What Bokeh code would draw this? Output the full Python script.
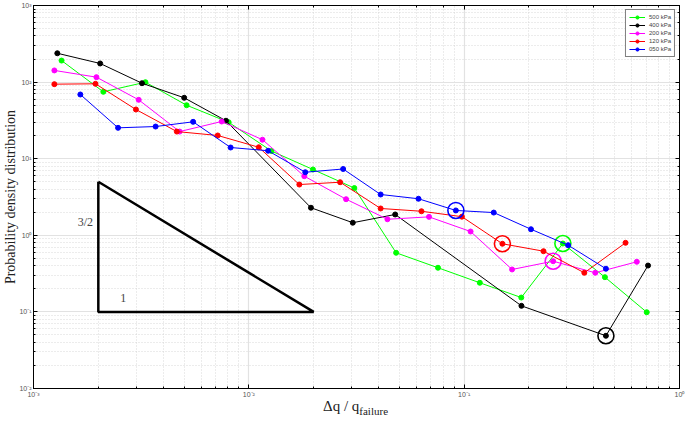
from bokeh.plotting import figure
from bokeh.models import (LogAxis, Legend, LegendItem, Label, LogTicker, CustomJSTickFormatter, Div)
from bokeh.layouts import column
from bokeh.embed import file_html
from bokeh.resources import INLINE

# ---- data ----
x_500 = [0.00135, 0.00211, 0.00331, 0.00514, 0.00806, 0.01273, 0.01985, 0.0309, 0.0483, 0.0756, 0.1182, 0.1842, 0.2873, 0.4505, 0.7045]
y_500 = [191, 74.7, 99.7, 49.9, 29.9, 12.6, 7.23, 4.14, 0.591, 0.377, 0.240, 0.154, 0.781, 0.284, 0.099]

x_400 = [0.00129, 0.00204, 0.00319, 0.00501, 0.00783, 0.01943, 0.03039, 0.04783, 0.1845, 0.4553, 0.7143]
y_400 = [238, 175, 96.7, 62.4, 31.3, 2.29, 1.46, 1.87, 0.120, 0.0488, 0.403]

x_200 = [0.00125, 0.00196, 0.00308, 0.00477, 0.00748, 0.01157, 0.0181, 0.02829, 0.04402, 0.06867, 0.1071, 0.1669, 0.2590, 0.4063, 0.6335]
y_200 = [142, 116, 58.7, 22.6, 30.6, 17.7, 5.91, 2.96, 1.62, 1.74, 1.12, 0.358, 0.459, 0.324, 0.451]

x_120 = [0.00125, 0.00194, 0.00299, 0.00463, 0.00717, 0.01112, 0.01716, 0.02654, 0.04093, 0.06334, 0.0976, 0.1505, 0.2336, 0.3614, 0.5616]
y_120 = [94, 95, 43.9, 22.6, 20.1, 14.1, 4.60, 4.93, 2.24, 2.06, 1.75, 0.775, 0.620, 0.324, 0.798]

x_050 = [0.00165, 0.00247, 0.00369, 0.00551, 0.00823, 0.01229, 0.01829, 0.02741, 0.04093, 0.06135, 0.0915, 0.1372, 0.2043, 0.3039, 0.4553]
y_050 = [68.9, 25.3, 26.3, 30.3, 14.0, 12.7, 6.66, 7.34, 3.41, 3.00, 2.11, 1.98, 1.20, 0.743, 0.366]

series_labels = ["500 kPa", "400 kPa", "200 kPa", "120 kPa", "050 kPa"]
series_colors = ["#00ff00", "#000000", "#ff00ff", "#ff0000", "#0000ff"]
# index of the highlighted (circled) point in each series
circled_index = [12, 9, 12, 11, 10]

# slope triangle
tri_x = [0.002, 0.002, 0.02, 0.002]
tri_y = [5.0, 0.1, 0.1, 5.0]

serif = "Liberation Serif"

p = figure(width=685, height=400, x_axis_type="log", y_axis_type="log",
           x_range=(1e-3, 1), y_range=(1e-2, 1e3),
           output_backend="svg", toolbar_location=None,
           min_border_left=0, min_border_right=6, min_border_top=5, min_border_bottom=12)

p.background_fill_color = "white"
p.outline_line_color = "black"
p.outline_line_width = 1

sup_fmt = CustomJSTickFormatter(code="""
const e = Math.round(Math.log10(tick));
const m = {'-':'\u207b','0':'\u2070','1':'\u00b9','2':'\u00b2','3':'\u00b3','4':'\u2074'};
return '10' + String(e).split('').map(c => m[c]).join('');
""")

for ax in (p.xaxis[0], p.yaxis[0]):
    ax.axis_line_color = "black"
    ax.major_tick_in = 4
    ax.major_tick_out = 0
    ax.minor_tick_in = 2
    ax.minor_tick_out = 0
    ax.formatter = sup_fmt
    ax.major_label_text_font = "Liberation Sans"
    ax.major_label_text_font_size = "7px"
    ax.major_label_text_color = "#555555"
    ax.major_label_standoff = 2

p.yaxis.axis_label = "Probability density distribution"
p.yaxis.axis_label_text_font = serif
p.yaxis.axis_label_text_font_size = "14px"
p.yaxis.axis_label_text_font_style = "normal"
p.yaxis.axis_label_text_color = "#222222"
p.yaxis.axis_label_standoff = -2

blank_fmt = CustomJSTickFormatter(code="return '';")
for loc in ("right", "above"):
    a = LogAxis(ticker=LogTicker(), formatter=blank_fmt)
    a.major_tick_in = 4
    a.major_tick_out = 0
    a.minor_tick_in = 2
    a.minor_tick_out = 0
    a.major_label_standoff = 0
    a.axis_line_color = "black"
    p.add_layout(a, loc)

for g in (p.xgrid[0], p.ygrid[0]):
    g.grid_line_color = "#e2e2e2"
    g.grid_line_width = 1.2
    g.minor_grid_line_color = "#cfcfcf"
    g.minor_grid_line_dash = "1 2"
    g.minor_grid_line_width = 0.8

xs_all = [x_500, x_400, x_200, x_120, x_050]
ys_all = [y_500, y_400, y_200, y_120, y_050]

items = []
for xs, ys, lab, col, ci in zip(xs_all, ys_all, series_labels, series_colors, circled_index):
    ln = p.line(xs, ys, line_color=col, line_width=1)
    sc = p.scatter(xs, ys, size=5, fill_color=col, line_color=col)
    p.scatter([xs[ci]], [ys[ci]], size=16, fill_color=None, line_color=col, line_width=1.6)
    items.append(LegendItem(label=lab, renderers=[ln, sc]))

p.line(tri_x, tri_y, line_color="black", line_width=2.5)

leg = Legend(items=items, location="top_right", margin=4, padding=3, spacing=0,
             label_text_font="Liberation Sans", label_text_font_size="6px",
             label_height=8, glyph_height=8, glyph_width=16, label_standoff=4,
             border_line_color="black", border_line_width=1,
             background_fill_alpha=1)
p.add_layout(leg)

p.add_layout(Label(x=0.00174, y=1.47, text="3/2", text_font=serif, text_font_size="12px",
                   text_align="center", text_baseline="middle"))
p.add_layout(Label(x=0.00261, y=0.15, text="1", text_font=serif, text_font_size="12px",
                   text_align="center", text_baseline="middle"))

xlabel = Div(text="\u0394q / q<sub style='font-size:11px'>failure</sub>", width=685, height=23,
             styles={"font-family": serif, "font-size": "15px", "line-height": "13px",
                     "text-align": "center", "padding-left": "26px", "box-sizing": "border-box",
                     "color": "#222222", "margin": "0"})

layout = column(p, xlabel, spacing=0)

open("out.html", "w").write(file_html(layout, INLINE))
